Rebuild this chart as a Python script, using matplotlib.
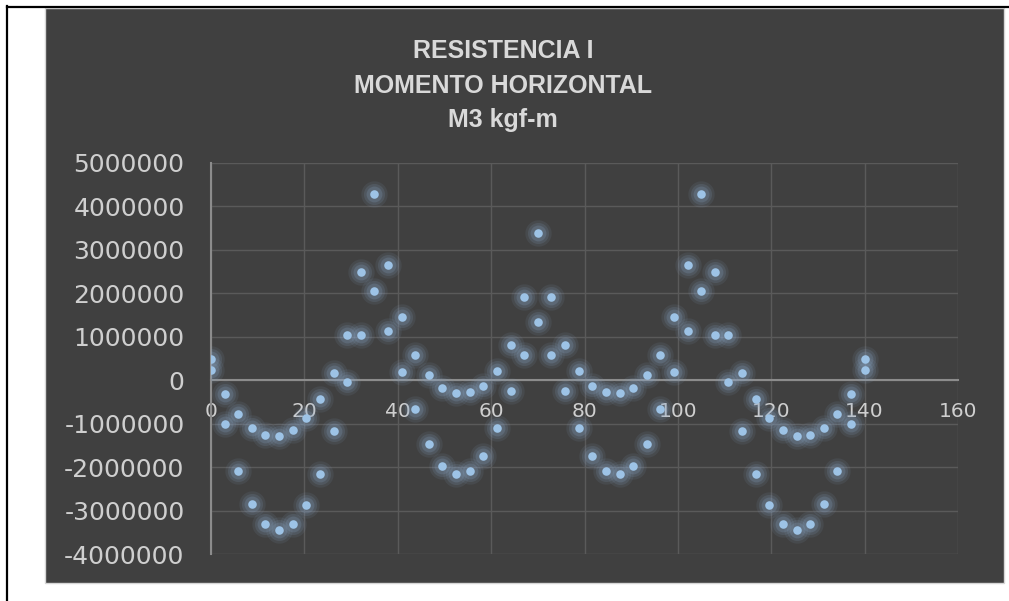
import matplotlib.pyplot as plt
from matplotlib.patches import Rectangle
from matplotlib.lines import Line2D
from matplotlib.ticker import FuncFormatter

# posiciones a lo largo del puente (m)
x = [0, 2.92, 5.83, 8.75, 11.67, 14.58, 17.5, 20.42, 23.33, 26.25, 29.17, 32.08,
     35, 37.92, 40.83, 43.75, 46.67, 49.58, 52.5, 55.42, 58.33, 61.25, 64.17, 67.08,
     70, 72.92, 75.83, 78.75, 81.67, 84.58, 87.5, 90.42, 93.33, 96.25, 99.17, 102.08,
     105, 107.92, 110.83, 113.75, 116.67, 119.58, 122.5, 125.42, 128.33, 131.25,
     134.17, 137.08, 140]

# envolvente de momento M3 (kgf-m)
m3_max = [490000, -310000, -780000, -1090000, -1260000, -1290000, -1150000, -860000,
          -430000, 160000, 1040000, 2490000, 4280000, 2660000, 1450000, 590000,
          120000, -170000, -290000, -280000, -130000, 210000, 820000, 1910000,
          3390000, 1910000, 820000, 210000, -130000, -280000, -290000, -170000,
          120000, 590000, 1450000, 2660000, 4280000, 2490000, 1040000, 160000,
          -430000, -860000, -1150000, -1290000, -1260000, -1090000, -780000,
          -310000, 490000]
m3_min = [240000, -1010000, -2080000, -2840000, -3300000, -3450000, -3300000,
          -2880000, -2160000, -1160000, -40000, 1030000, 2060000, 1140000, 180000,
          -670000, -1460000, -1970000, -2170000, -2100000, -1740000, -1090000,
          -250000, 590000, 1350000, 590000, -250000, -1090000, -1740000, -2100000,
          -2170000, -1970000, -1460000, -670000, 180000, 1140000, 2060000, 1030000,
          -40000, -1160000, -2160000, -2880000, -3300000, -3450000, -3300000,
          -2840000, -2080000, -1010000, 240000]

xticks = [0, 20, 40, 60, 80, 100, 120, 140, 160]
yticks = [-4000000, -3000000, -2000000, -1000000, 0, 1000000, 2000000,
          3000000, 4000000, 5000000]

fondo = '#404040'
texto = '#cfcfcf'

fig = plt.figure(figsize=(10.09, 6.01), dpi=100, facecolor='white')

# marco del grafico
fig.patches.append(Rectangle((45 / 1009, 1 - 583 / 601), 959 / 1009, 575 / 601,
                             transform=fig.transFigure, facecolor=fondo,
                             edgecolor='#d6d6d6', lw=1, zorder=-5))
fig.lines.append(Line2D([7 / 1009, 1], [1 - 6.5 / 601, 1 - 6.5 / 601],
                        transform=fig.transFigure, color='black', lw=1.6))
fig.lines.append(Line2D([7 / 1009, 7 / 1009], [0, 1 - 6 / 601],
                        transform=fig.transFigure, color='black', lw=1.6))

ax = fig.add_axes([211 / 1009, 1 - 554 / 601, 747 / 1009, 391 / 601])
ax.set_facecolor('none')

# halo suave alrededor de los puntos
for s, a in [(360, 0.10), (230, 0.15), (130, 0.22)]:
    ax.scatter(x, m3_max, s=s, color='#8aa6c6', alpha=a, lw=0, zorder=3)
    ax.scatter(x, m3_min, s=s, color='#8aa6c6', alpha=a, lw=0, zorder=3)
ax.scatter(x, m3_max, s=38, color='#9dc3e6', lw=0, zorder=4)
ax.scatter(x, m3_min, s=38, color='#9dc3e6', lw=0, zorder=4)

ax.set_xlim(0, 160)
ax.set_ylim(-4000000, 5000000)
ax.set_xticks(xticks)
ax.set_yticks(yticks)
ax.yaxis.set_major_formatter(FuncFormatter(lambda v, p: str(int(v))))
ax.grid(True, color='#5a5a5a', lw=1)
ax.set_axisbelow(True)

for lado in ['top', 'right']:
    ax.spines[lado].set_visible(False)
ax.spines['bottom'].set_position(('data', 0))
ax.spines['bottom'].set_color('#8c8c8c')
ax.spines['bottom'].set_linewidth(1.5)
ax.spines['left'].set_color('#8c8c8c')
ax.spines['left'].set_linewidth(1.5)

ax.tick_params(axis='x', length=0, pad=16, labelsize=14.5, labelcolor=texto)
ax.tick_params(axis='y', length=0, pad=19, labelsize=18, labelcolor=texto)

titulo = dict(ha='center', va='baseline', fontsize=18, fontweight='bold',
              color='#d9d9d9', family='Liberation Sans')
fig.text(503 / 1009, 1 - 58 / 601, 'RESISTENCIA I', **titulo)
fig.text(503 / 1009, 1 - 93 / 601, 'MOMENTO HORIZONTAL', **titulo)
fig.text(503 / 1009, 1 - 127 / 601, 'M3 kgf-m', **titulo)

fig.savefig('out.png', dpi=100, facecolor='white')
